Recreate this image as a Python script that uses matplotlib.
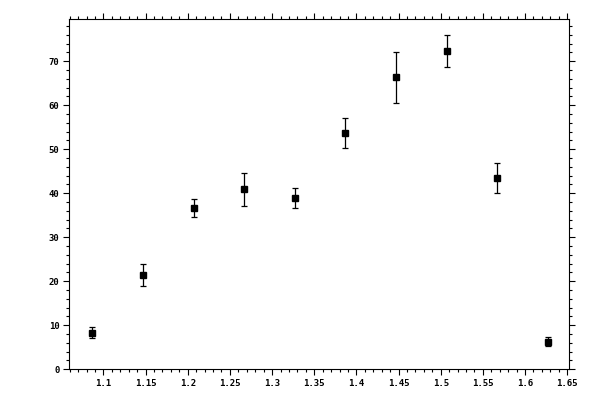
import matplotlib
matplotlib.use('Agg')
import matplotlib.pyplot as plt
from matplotlib.ticker import MultipleLocator, FuncFormatter

# data
x_vals = [1.087, 1.147, 1.207, 1.267, 1.327, 1.387, 1.447, 1.507, 1.567, 1.627]
y_vals = [8.2, 21.4, 36.6, 40.9, 39.0, 53.6, 66.4, 72.3, 43.4, 6.1]
err_low = [1.1, 2.5, 2.0, 3.8, 2.3, 3.4, 5.9, 3.7, 3.4, 0.8]
err_high = [1.3, 2.5, 2.1, 3.6, 2.1, 3.4, 5.6, 3.7, 3.4, 1.2]

fig = plt.figure(figsize=(6, 4), dpi=100)
fig.patch.set_facecolor('white')
ax = fig.add_axes([0.1155, 0.0768, 0.8333, 0.8757])

ax.errorbar(x_vals, y_vals, yerr=[err_low, err_high], fmt='s', color='black',
            markersize=5, elinewidth=0.9, capsize=2, capthick=0.9)

ax.set_xlim(1.0595, 1.6525)
ax.set_ylim(0, 79.6)

ax.xaxis.set_major_locator(MultipleLocator(0.05))
ax.xaxis.set_minor_locator(MultipleLocator(0.01))
ax.yaxis.set_major_locator(MultipleLocator(10))
ax.yaxis.set_minor_locator(MultipleLocator(2))
ax.xaxis.set_major_formatter(FuncFormatter(lambda v, p: '%g' % round(v, 2)))
ax.yaxis.set_major_formatter(FuncFormatter(lambda v, p: '%g' % round(v, 1)))

ax.tick_params(which='both', direction='out', top=True, right=True,
               width=0.8, labelsize=6.5)
ax.tick_params(which='major', length=4, pad=3)
ax.tick_params(which='minor', length=2.5)
for lab in ax.get_xticklabels() + ax.get_yticklabels():
    lab.set_family('DejaVu Sans Mono')
    lab.set_fontweight('bold')
for sp in ax.spines.values():
    sp.set_linewidth(0.8)

fig.savefig('out.png', dpi=100)
